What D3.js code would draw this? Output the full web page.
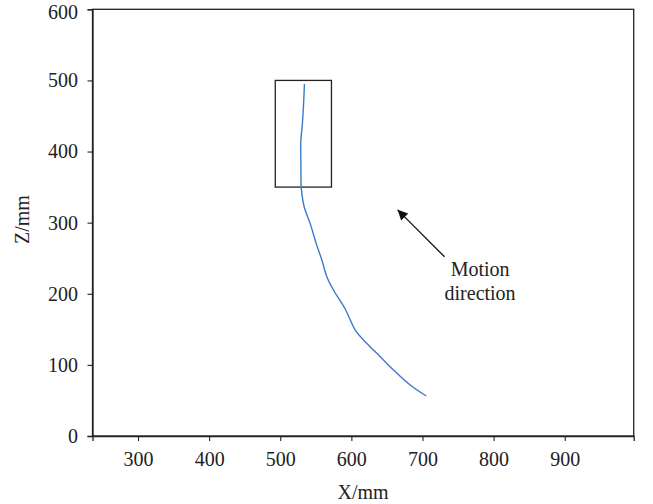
<!DOCTYPE html>
<html>
<head>
<meta charset="utf-8">
<script src="https://cdn.jsdelivr.net/npm/d3@7"></script>
<style>
  html, body { margin: 0; padding: 0; background: #fff; }
  svg { display: block; }
  text { font-family: "Liberation Serif", "DejaVu Serif", serif; fill: #222; }
</style>
</head>
<body>
<svg id="chart" width="653" height="504"></svg>
<script>
// Trajectory (X/mm, Z/mm)
const trajX = [534, 532.6, 530.8, 529, 529, 529.4, 530.4, 533.6, 542, 550.5, 558.5, 565.5, 574.8, 591.3, 605.4, 617, 635.9, 659.2, 682.7, 705.3];
const trajZ = [495, 463, 434.9, 416, 383.4, 351, 341, 322.3, 299, 270.9, 247.5, 224, 205.3, 178.6, 149, 135, 116.3, 92.8, 71.7, 56.2];
const xTicks = [300, 400, 500, 600, 700, 800, 900];
const yTicks = [0, 100, 200, 300, 400, 500, 600];
const xDomain = [236, 997];
const yDomain = [0, 600];
// Highlight box
const boxX = [493, 572];
const boxZ = [350, 500];
// Motion arrow (from -> to) and its label
const arrowFrom = [731, 252];
const arrowTo = [665, 318];
const labelLines = ["Motion", "direction"];
const labelPos = [781, 225];

(function () {
const svg = d3.select("#chart");
const pL = 92.5, pR = 633.7, pT = 9.3, pB = 436;
const x = d3.scaleLinear().domain(xDomain).range([pL, pR]);
const y = d3.scaleLinear().domain(yDomain).range([pB, pT]);
const fs = 20;

// Frame
svg.append("rect").attr("x", pL).attr("y", pT)
  .attr("width", pR - pL).attr("height", pB - pT)
  .attr("fill", "none").attr("stroke", "#222").attr("stroke-width", 1.3);

const xAxis = svg.append("g").attr("transform", `translate(0,${pB})`)
  .call(d3.axisBottom(x).tickValues(xTicks).tickSize(5).tickPadding(11).tickFormat(d3.format("d")));
const yAxis = svg.append("g").attr("transform", `translate(${pL},0)`)
  .call(d3.axisLeft(y).tickValues(yTicks).tickSize(5).tickPadding(9.5).tickFormat(d3.format("d")));
[xAxis, yAxis].forEach(g => {
  g.select(".domain").attr("stroke", "#222").attr("stroke-width", 1.3);
  g.selectAll(".tick line").attr("stroke", "#222").attr("stroke-width", 1.1);
  g.selectAll(".tick text").attr("font-size", fs).attr("font-family", "Liberation Serif, serif").attr("fill", "#222");
});
// keep the top tick label inside the picture
yAxis.selectAll(".tick text").filter(d => d === yDomain[1]).attr("dy", "0.45em");

// Axis titles
svg.append("text").attr("x", (pL + pR) / 2).attr("y", 499)
  .attr("text-anchor", "middle").attr("font-size", fs).text("X/mm");
svg.append("text").attr("transform", `translate(29,${(pT + pB) / 2 - 3}) rotate(-90)`)
  .attr("text-anchor", "middle").attr("font-size", fs).text("Z/mm");

// Box
svg.append("rect").attr("x", x(boxX[0])).attr("y", y(boxZ[1]))
  .attr("width", x(boxX[1]) - x(boxX[0])).attr("height", y(boxZ[0]) - y(boxZ[1]))
  .attr("fill", "none").attr("stroke", "#222").attr("stroke-width", 1.3);

// Trajectory
const pts = trajX.map((v, i) => [v, trajZ[i]]);
svg.append("path").datum(pts)
  .attr("fill", "none").attr("stroke", "#3a7bc8").attr("stroke-width", 1.4)
  .attr("d", d3.line().x(d => x(d[0])).y(d => y(d[1])).curve(d3.curveCatmullRom.alpha(0.5)));

// Arrow
svg.append("defs").append("marker").attr("id", "ah")
  .attr("viewBox", "0 0 10 10").attr("refX", 10).attr("refY", 5)
  .attr("markerWidth", 13).attr("markerHeight", 10).attr("markerUnits", "userSpaceOnUse")
  .attr("orient", "auto")
  .append("path").attr("d", "M0,0 L10,5 L0,10 Z").attr("fill", "#111");
svg.append("line")
  .attr("x1", x(arrowFrom[0])).attr("y1", y(arrowFrom[1]))
  .attr("x2", x(arrowTo[0])).attr("y2", y(arrowTo[1]))
  .attr("stroke", "#111").attr("stroke-width", 1.3).attr("marker-end", "url(#ah)");

const lbl = svg.append("text").attr("text-anchor", "middle").attr("font-size", fs);
labelLines.forEach((t, i) => {
  lbl.append("tspan").attr("x", x(labelPos[0])).attr("y", y(labelPos[1]) + i * 24).text(t);
});
})();
</script>
</body>
</html>
